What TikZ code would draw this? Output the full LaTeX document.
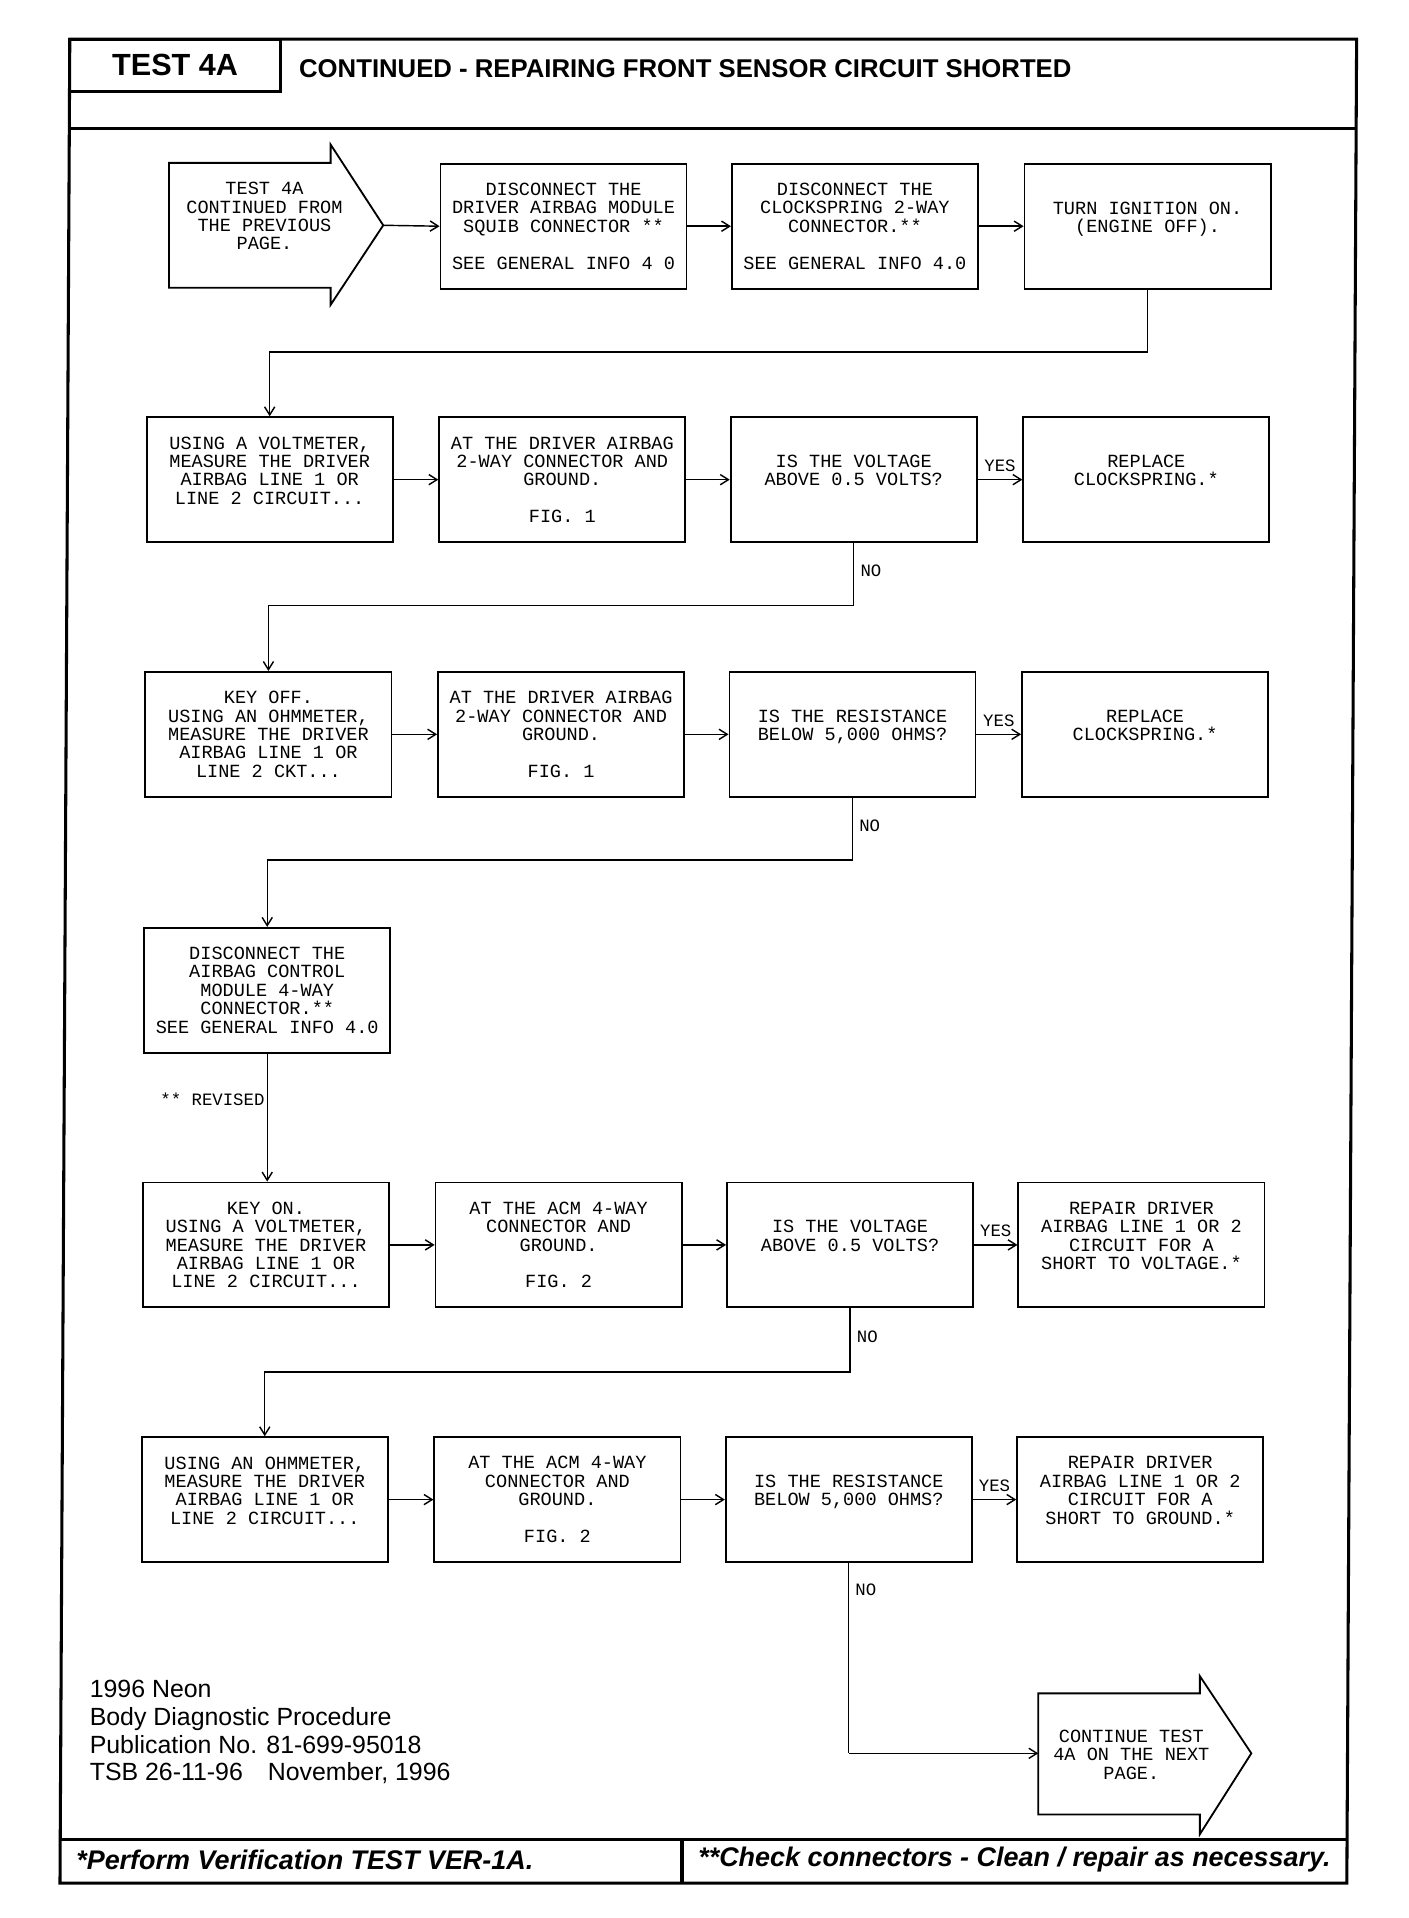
\documentclass[tikz,border=0pt]{standalone}
\usepackage{fontspec}
\setmainfont{Liberation Sans}
\setmonofont{Liberation Mono}
\usetikzlibrary{arrows.meta}

\tikzset{
  stepbox/.style={draw, line width=0.9pt, minimum width=120.6pt, minimum height=61.2pt,
    inner sep=0pt, anchor=north west, align=center, font=\ttfamily\fontsize{9.1}{9}\selectfont},
  boxtext/.style={inner sep=0pt, align=center, font=\ttfamily\fontsize{9.1}{9}\selectfont},
  flow/.style={line width=0.7pt, -{Straight Barb[length=4pt,width=5pt]}},
  answer/.style={inner sep=1pt, font=\ttfamily\fontsize{8.5}{9}\selectfont},
  frame/.style={line width=1.5pt},
}

\begin{document}
\begin{tikzpicture}[x=0.6pt, y=-0.6pt]
  \useasboundingbox (0,0) rectangle (1150,1566.5);

  % page frame, header and footer
  \draw[frame] (57,32) -- (1108,32) -- (1100,1538) -- (49,1538) -- cycle;
  \draw[frame] (56.5,105) -- (1107.5,105);
  \draw[frame] (57,32) rectangle (229,75);
  \node[font=\bfseries\fontsize{15}{15}\selectfont] (testno) at (143,53) {TEST 4A};
  \node[anchor=west, inner sep=0pt, font=\bfseries\fontsize{12.6}{13}\selectfont] (title) at (244,56)
    {CONTINUED - REPAIRING FRONT SENSOR CIRCUIT SHORTED};
  \draw[frame] (49.5,1502) -- (1100.5,1502);
  \draw[frame] (557,1502) -- (557,1538);
  \node[anchor=west, inner sep=0pt, font=\bfseries\itshape\fontsize{13.2}{14}\selectfont] (verify) at (62,1519)
    {*Perform Verification TEST VER-1A.};
  \node[anchor=west, inner sep=0pt, font=\bfseries\itshape\fontsize{13.2}{14}\selectfont] (check) at (570,1519)
    {**Check connectors - Clean / repair as necessary.};
  \node[anchor=north west, inner sep=0pt, align=left, font=\fontsize{12.2}{13.6}\selectfont] (pub) at (73,1372)
    {1996 Neon\\Body Diagnostic Procedure\\Publication No. 81-699-95018\\TSB 26-11-96\quad November, 1996};

  % row 1
  \draw[line width=0.9pt] (138,133) -- (270,133) -- (270,118) -- (313,184) -- (270,249) -- (270,235) -- (138,235) -- cycle;
  \node[boxtext] (start) at (216,184) {TEST 4A\\CONTINUED FROM\\THE PREVIOUS\\PAGE.\\\mbox{}};
  \coordinate (startTip) at (313,184);
  \node[stepbox] (b12) at (359,133) {DISCONNECT THE\\DRIVER AIRBAG MODULE\\SQUIB CONNECTOR **\\[9pt]SEE GENERAL INFO 4 0};
  \node[stepbox] (b13) at (597,133) {DISCONNECT THE\\CLOCKSPRING 2-WAY\\CONNECTOR.**\\[9pt]SEE GENERAL INFO 4.0};
  \node[stepbox] (b14) at (836,133) {TURN IGNITION ON.\\(ENGINE OFF).\\\mbox{}};
  \draw[flow] (startTip) -- (b12.west);
  \draw[flow] (b12) -- (b13);
  \draw[flow] (b13) -- (b14);

  % row 2
  \node[stepbox] (b21) at (119,340) {USING A VOLTMETER,\\MEASURE THE DRIVER\\AIRBAG LINE 1 OR\\LINE 2 CIRCUIT...\\\mbox{}};
  \node[stepbox] (b22) at (358,340) {AT THE DRIVER AIRBAG\\2-WAY CONNECTOR AND\\GROUND.\\[9pt]FIG. 1};
  \node[stepbox] (b23) at (596,340) {IS THE VOLTAGE\\ABOVE 0.5 VOLTS?\\\mbox{}};
  \node[stepbox] (b24) at (835,340) {REPLACE\\CLOCKSPRING.*\\\mbox{}};
  \draw[flow] (b14.south) -- ++(0,51) -| (b21.north);
  \draw[flow] (b21) -- (b22);
  \draw[flow] (b22) -- (b23);
  \draw[flow] (b23) -- node[answer, above=2.5pt] (yes2) {YES} (b24);

  % row 3
  \node[stepbox] (b31) at (118,548) {KEY OFF.\\USING AN OHMMETER,\\MEASURE THE DRIVER\\AIRBAG LINE 1 OR\\LINE 2 CKT...};
  \node[stepbox] (b32) at (357,548) {AT THE DRIVER AIRBAG\\2-WAY CONNECTOR AND\\GROUND.\\[9pt]FIG. 1};
  \node[stepbox] (b33) at (595,548) {IS THE RESISTANCE\\BELOW 5,000 OHMS?\\\mbox{}};
  \node[stepbox] (b34) at (834,548) {REPLACE\\CLOCKSPRING.*\\\mbox{}};
  \draw[flow] (b23.south) -- node[answer, right=2pt, pos=0.45] (no2) {NO} ++(0,51) -| (b31.north);
  \draw[flow] (b31) -- (b32);
  \draw[flow] (b32) -- (b33);
  \draw[flow] (b33) -- node[answer, above=2.5pt] (yes3) {YES} (b34);

  % row 4
  \node[stepbox] (b41) at (117,757) {DISCONNECT THE\\AIRBAG CONTROL\\MODULE 4-WAY\\CONNECTOR.**\\SEE GENERAL INFO 4.0};
  \draw[flow] (b33.south) -- node[answer, right=2pt, pos=0.45] (no3) {NO} ++(0,51) -| (b41.north);

  % row 5
  \node[stepbox] (b51) at (116,965) {KEY ON.\\USING A VOLTMETER,\\MEASURE THE DRIVER\\AIRBAG LINE 1 OR\\LINE 2 CIRCUIT...};
  \node[stepbox] (b52) at (355,965) {AT THE ACM 4-WAY\\CONNECTOR AND\\GROUND.\\[9pt]FIG. 2};
  \node[stepbox] (b53) at (593,965) {IS THE VOLTAGE\\ABOVE 0.5 VOLTS?\\\mbox{}};
  \node[stepbox] (b54) at (831,965) {REPAIR DRIVER\\AIRBAG LINE 1 OR 2\\CIRCUIT FOR A\\SHORT TO VOLTAGE.*\\\mbox{}};
  \draw[flow] (b41.south) -- node[answer, left=0pt, pos=0.36] (revised) {** REVISED} (b41.south |- b51.north);
  \draw[flow] (b51) -- (b52);
  \draw[flow] (b52) -- (b53);
  \draw[flow] (b53) -- node[answer, above=2.5pt] (yes5) {YES} (b54);

  % row 6
  \node[stepbox] (b61) at (115,1173) {USING AN OHMMETER,\\MEASURE THE DRIVER\\AIRBAG LINE 1 OR\\LINE 2 CIRCUIT...\\\mbox{}};
  \node[stepbox] (b62) at (354,1173) {AT THE ACM 4-WAY\\CONNECTOR AND\\GROUND.\\[9pt]FIG. 2};
  \node[stepbox] (b63) at (592,1173) {IS THE RESISTANCE\\BELOW 5,000 OHMS?\\\mbox{}};
  \node[stepbox] (b64) at (830,1173) {REPAIR DRIVER\\AIRBAG LINE 1 OR 2\\CIRCUIT FOR A\\SHORT TO GROUND.*\\\mbox{}};
  \draw[flow] (b53.south) -- node[answer, right=2pt, pos=0.45] (no5) {NO} ++(0,52) -| (b61.north);
  \draw[flow] (b61) -- (b62);
  \draw[flow] (b62) -- (b63);
  \draw[flow] (b63) -- node[answer, above=2.5pt] (yes6) {YES} (b64);

  % continue arrow
  \draw[line width=0.9pt] (848,1383) -- (980,1383) -- (980,1369) -- (1022,1432) -- (980,1498) -- (980,1482) -- (848,1482) -- cycle;
  \node[boxtext] (next) at (924,1433) {CONTINUE TEST\\4A ON THE NEXT\\PAGE.};
  \coordinate (endTail) at (848,1432);
  \draw (b63.south) -- node[answer, right=2pt, pos=0.14] (no6) {NO} (b63.south |- endTail) coordinate (bend);
  \draw[flow] (bend) -- (endTail);
\end{tikzpicture}
\end{document}
